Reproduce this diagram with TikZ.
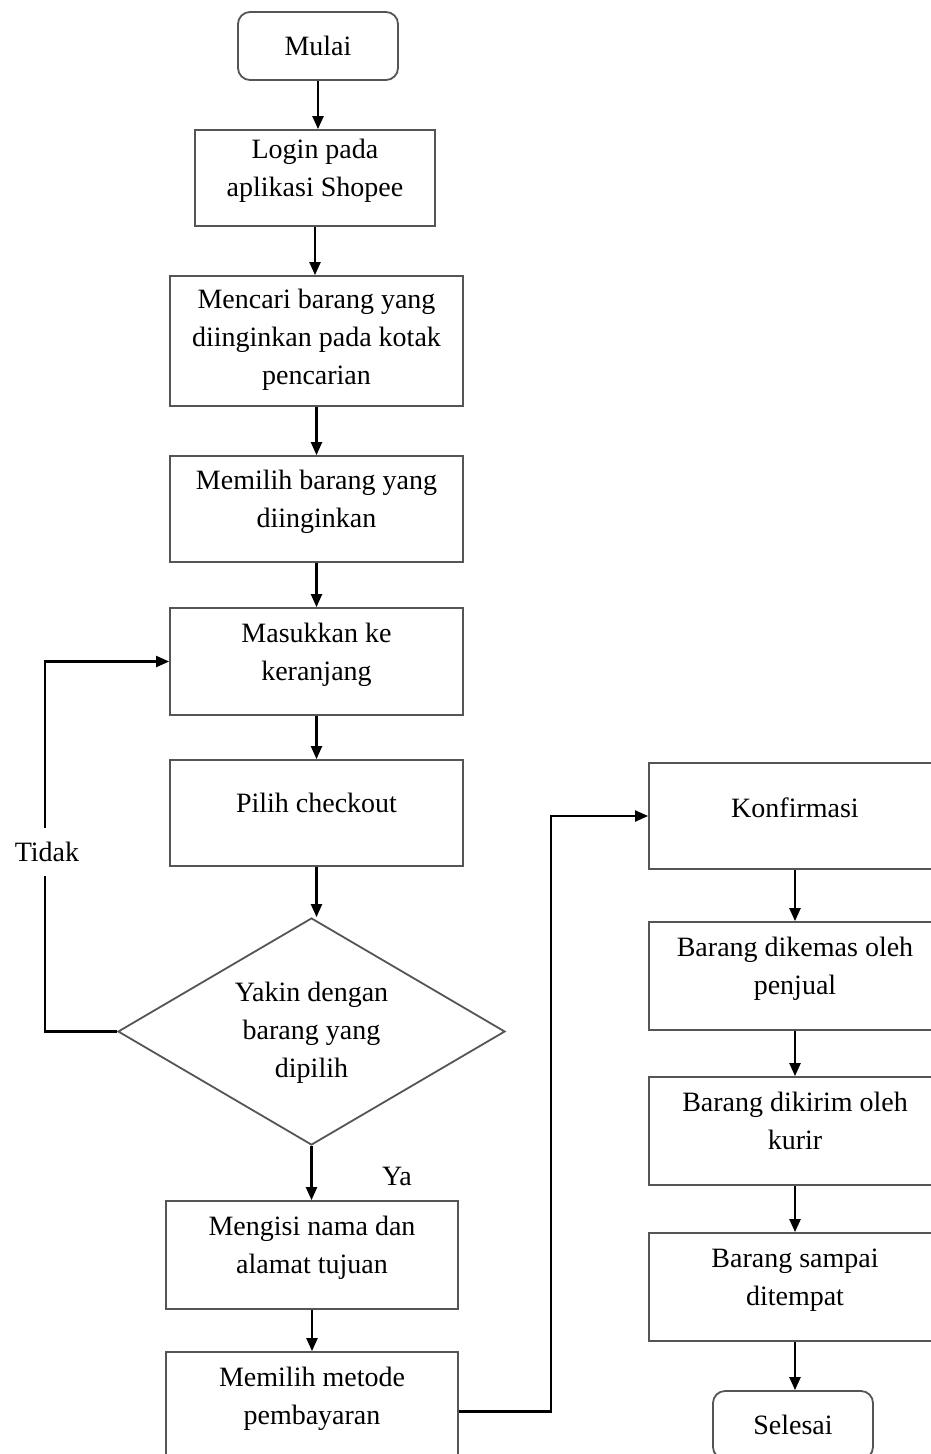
\documentclass[tikz,border=0pt]{standalone}
\usepackage{fontspec}
\setmainfont{Liberation Serif}
\usetikzlibrary{shapes.geometric,arrows.meta}
\definecolor{boxgray}{HTML}{555555}
\newcommand\lift[2][8pt]{\raisebox{#1}[\height][\depth]{\begin{tabular}{@{}c@{}}#2\end{tabular}}}
\begin{document}
\begin{tikzpicture}[x=1pt,y=-1pt,
  every node/.style={font=\fontsize{28}{38}\selectfont},
  box/.style={draw=boxgray,line width=1.8pt,rectangle,minimum width=293pt,minimum height=107pt,inner sep=0pt},
  term/.style={draw=boxgray,line width=1.8pt,rectangle,rounded corners=12pt,minimum width=160pt,minimum height=68pt,inner sep=0pt},
  dec/.style={draw=boxgray,line width=1.8pt,diamond,aspect=1.7,minimum width=387pt,minimum height=227pt,inner sep=0pt},
  arr/.style={draw=black,line width=2.2pt,-{Triangle[length=13pt,width=11pt]}}]
\useasboundingbox (0,0) rectangle (931,1454);
\clip (0,0) rectangle (931,1454);
% left column
\node[term] (mulai) at (318,46) {Mulai};
\node[box,minimum width=240pt,minimum height=96pt] (login) at (315,178) {\lift{Login pada\\aplikasi Shopee}};
\node[box,minimum height=130pt] (cari) at (316.5,341) {\lift[2pt]{Mencari barang yang\\diinginkan pada kotak\\pencarian}};
\node[box,minimum height=106pt] (pilih) at (316.5,509) {\lift{Memilih barang yang\\diinginkan}};
\node[box] (masuk) at (316.5,661.5) {\lift{Masukkan ke\\keranjang}};
\node[box,minimum height=106pt] (checkout) at (316.5,813) {\lift{Pilih checkout}};
\node[dec] (yakin) at (311.5,1031.5) {\begin{tabular}{@{}c@{}}Yakin dengan\\barang yang\\dipilih\end{tabular}};
\node[box,minimum width=292pt,minimum height=108pt] (isi) at (312,1255) {\lift{Mengisi nama dan\\alamat tujuan}};
\node[box,minimum width=292pt] (metode) at (312,1405.5) {\lift{Memilih metode\\pembayaran}};
% right column
\node[box,minimum width=292pt,minimum height=106pt] (konf) at (795,816) {\lift[6pt]{Konfirmasi}};
\node[box,minimum width=292pt,minimum height=108pt] (kemas) at (795,976) {\lift{Barang dikemas oleh\\penjual}};
\node[box,minimum width=292pt,minimum height=108pt] (kirim) at (795,1131) {\lift{Barang dikirim oleh\\kurir}};
\node[box,minimum width=292pt,minimum height=108pt] (sampai) at (795,1287) {\lift{Barang sampai\\ditempat}};
\node[term] (selesai) at (793,1425) {Selesai};
% connectors
\draw[arr] (mulai.south) -- (mulai.south |- login.north);
\draw[arr] (login.south) -- (login.south |- cari.north);
\draw[arr] (cari.south) -- (cari.south |- pilih.north);
\draw[arr] (pilih.south) -- (pilih.south |- masuk.north);
\draw[arr] (masuk.south) -- (masuk.south |- checkout.north);
\draw[arr] (checkout.south) -- (checkout.south |- yakin.north);
\draw[arr] (yakin.south) -- (yakin.south |- isi.north);
\draw[arr] (isi.south) -- (isi.south |- metode.north);
\draw[arr] ([yshift=-6pt]metode.east) -- ++(92,0) |- (konf.west);
\draw[arr] (konf.south) -- (konf.south |- kemas.north);
\draw[arr] (kemas.south) -- (kemas.south |- kirim.north);
\draw[arr] (kirim.south) -- (kirim.south |- sampai.north);
\draw[arr] (sampai.south) -- (sampai.south |- selesai.north);
\draw[arr] (yakin.west) -- ++(-72,0) |- (masuk.west);
\node[fill=white,inner xsep=2pt,inner ysep=14pt] (tidak) at (47,852) {Tidak};
\node (ya) at (397,1176) {Ya};
\end{tikzpicture}
\end{document}
